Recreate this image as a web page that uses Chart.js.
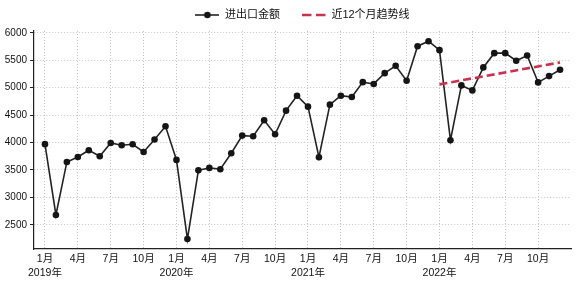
<!DOCTYPE html>
<html><head><meta charset="utf-8">
<script src="https://cdn.jsdelivr.net/npm/chart.js@4/dist/chart.umd.min.js"></script>
<style>html,body{margin:0;padding:0;background:#fff}#wrap{width:576px;height:282px;position:relative}</style>
</head><body><div id="wrap"><canvas id="c" width="576" height="282"></canvas></div>
<script>
const months = [
  '2019-01','2019-02','2019-03','2019-04','2019-05','2019-06','2019-07','2019-08','2019-09','2019-10','2019-11','2019-12',
  '2020-01','2020-02','2020-03','2020-04','2020-05','2020-06','2020-07','2020-08','2020-09','2020-10','2020-11','2020-12',
  '2021-01','2021-02','2021-03','2021-04','2021-05','2021-06','2021-07','2021-08','2021-09','2021-10','2021-11','2021-12',
  '2022-01','2022-02','2022-03','2022-04','2022-05','2022-06','2022-07','2022-08','2022-09','2022-10','2022-11','2022-12'
];
const tradeValues = [
  3970, 2680, 3646, 3737, 3859, 3750, 3992, 3950, 3968, 3828, 4054, 4296,
  3683, 2240, 3493, 3537, 3513, 3804, 4126, 4114, 4405, 4150, 4581, 4854,
  4654, 3732, 4690, 4854, 4829, 5101, 5068, 5265, 5400, 5127, 5756, 5847,
  5684, 4041, 5041, 4950, 5369, 5629, 5629, 5491, 5587, 5096, 5211, 5327
];
const trendMonths = ['2022-01', '2022-12'];
const trendValues = [5060, 5460];
const yTicks = [2500, 3000, 3500, 4000, 4500, 5000, 5500, 6000];
const xTickMonths = ['2019-01','2019-04','2019-07','2019-10','2020-01','2020-04','2020-07','2020-10',
  '2021-01','2021-04','2021-07','2021-10','2022-01','2022-04','2022-07','2022-10'];
const xTickLabels = [['1月','2019年'],'4月','7月','10月',['1月','2020年'],'4月','7月','10月',
  ['1月','2021年'],'4月','7月','10月',['1月','2022年'],'4月','7月','10月'];
const seriesNames = ['进出口金额', '近12个月趋势线'];

const LINE_COLOR = '#232323';
const TREND_COLOR = '#c8324f';
const FONT = '"Liberation Sans", "Noto Sans CJK SC", sans-serif';

function legendIcon(kind) {
  const c = document.createElement('canvas');
  c.width = 24; c.height = 10;
  const g = c.getContext('2d');
  g.beginPath();
  if (kind === 0) {
    g.strokeStyle = LINE_COLOR; g.lineWidth = 1.6;
    g.moveTo(0, 5); g.lineTo(24, 5); g.stroke();
    g.beginPath(); g.fillStyle = '#151515'; g.arc(12, 5, 3.3, 0, Math.PI * 2); g.fill();
  } else {
    g.strokeStyle = TREND_COLOR; g.lineWidth = 2.6; g.setLineDash([9.5, 4.5]);
    g.moveTo(0, 5); g.lineTo(24, 5); g.stroke();
  }
  return c;
}
const icons = [legendIcon(0), legendIcon(1)];

const legendTweak = {
  id: 'legendTweak',
  beforeLayout(chart) {
    const lg = chart.legend;
    if (lg && !lg._patched) {
      const f = lg.fit.bind(lg);
      lg.fit = function () { f(); this.height = 31; };
      lg._patched = true;
    }
  },
  afterLayout(chart) {
    const lg = chart.legend;
    if (!lg) return;
    const pad = lg.options.labels.padding;
    lg.top = 15 - 5.5 - pad;
    lg.left += 17; lg.right += 17;
  }
};

new Chart(document.getElementById('c'), {
  type: 'line',
  data: {
    datasets: [
      {
        label: seriesNames[0],
        data: tradeValues.map((v, i) => ({ x: i, y: v })),
        borderColor: LINE_COLOR, borderWidth: 1.6,
        pointRadius: 3.3, pointBackgroundColor: '#151515', pointBorderWidth: 0,
        tension: 0, order: 2
      },
      {
        label: seriesNames[1],
        data: trendMonths.map((m, i) => ({ x: months.indexOf(m), y: trendValues[i] })),
        borderColor: TREND_COLOR, borderWidth: 2.6, borderDash: [8, 4],
        pointRadius: 0, tension: 0, order: 1
      }
    ]
  },
  options: {
    responsive: false, animation: false, devicePixelRatio: 1,
    layout: { padding: { left: 0, right: 5, top: 0, bottom: 0 } },
    plugins: {
      tooltip: { enabled: false },
      legend: {
        position: 'top', align: 'center',
        labels: {
          usePointStyle: true, pointStyleWidth: 24, boxHeight: 11,
          padding: 22, color: '#111',
          font: { size: 11, family: FONT },
          generateLabels: (chart) => seriesNames.map((n, i) => ({
            text: n, pointStyle: icons[i], datasetIndex: i, hidden: false,
            fillStyle: 'transparent', strokeStyle: 'transparent', lineWidth: 0, fontColor: '#111'
          }))
        }
      }
    },
    scales: {
      x: {
        type: 'linear', min: -1, max: 48,
        afterBuildTicks: (s) => { s.ticks = xTickMonths.map(m => ({ value: months.indexOf(m) })); },
        afterFit: (s) => { s.height = 33; },
        ticks: {
          autoSkip: false, maxRotation: 0, minRotation: 0, padding: 3, color: '#111',
          font: { size: 10.5, family: FONT, lineHeight: 14 / 10.5 },
          callback: (v) => xTickLabels[xTickMonths.indexOf(months[v])]
        },
        grid: { color: '#c4c4c4', lineWidth: 1, drawTicks: false },
        border: { display: true, color: '#222', width: 1.2, dash: [1, 2] }
      },
      y: {
        type: 'linear', min: 2059, max: 6033,
        afterBuildTicks: (s) => { s.ticks = yTicks.map(v => ({ value: v })); },
        afterFit: (s) => { s.width = 34; },
        ticks: { padding: 3, color: '#111', font: { size: 10, family: FONT }, callback: (v) => String(v) },
        grid: { color: '#c4c4c4', lineWidth: 1, drawTicks: true, tickLength: 4, tickColor: '#222', tickWidth: 1 },
        border: { display: true, color: '#222', width: 1.2, dash: [1, 2] }
      }
    }
  },
  plugins: [legendTweak]
});
</script></body></html>
